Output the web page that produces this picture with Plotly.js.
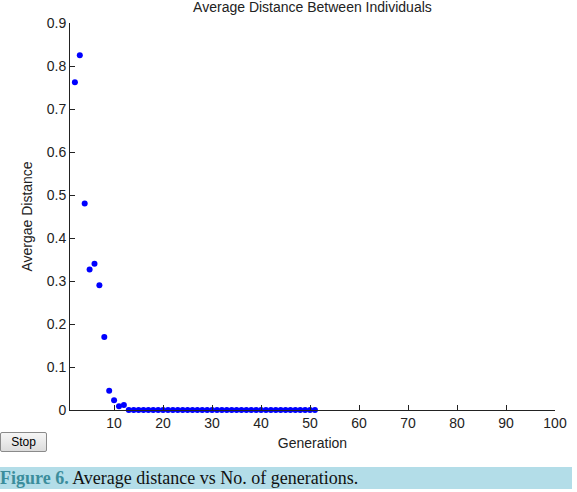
<!DOCTYPE html>
<html>
<head>
<meta charset="utf-8">
<script src="https://cdn.plot.ly/plotly-3.0.1.min.js"></script>
<style>
  html, body { margin: 0; padding: 0; background: #ffffff; }
  #wrap { position: relative; width: 577px; height: 492px; overflow: hidden; }
  #chart { position: absolute; left: 0; top: 0; width: 577px; height: 492px; }
  #stop {
    position: absolute; left: 0; top: 432px; width: 47px; height: 20px;
    box-sizing: border-box; border: 1px solid #8a8a8a; border-radius: 2px;
    background: linear-gradient(#f6f6f6, #dcdcdc);
    font: 12px "Liberation Sans", Arial, sans-serif; color: #000;
    padding: 0; margin: 0;
  }
  #caption {
    position: absolute; left: 0; top: 467px; width: 572px; height: 22px;
    background: #b3dde8; box-sizing: border-box; padding-left: 0;
    font: 18px "Liberation Serif", "Times New Roman", serif; color: #111;
    line-height: 22px; white-space: nowrap;
  }
  #caption b { color: #3b8d9c; }
</style>
</head>
<body>
<div id="wrap">
  <div id="chart"></div>
  <button id="stop">Stop</button>
  <div id="caption"><b>Figure 6.</b> Average distance vs No. of generations.</div>
</div>
<script>
// Average distance between individuals for each GA generation
const generations = [
  2, 3, 4, 5, 6, 7, 8, 9, 10, 11, 12,
  13, 14, 15, 16, 17, 18, 19, 20, 21, 22, 23, 24, 25, 26, 27, 28, 29, 30,
  31, 32, 33, 34, 35, 36, 37, 38, 39, 40, 41, 42, 43, 44, 45, 46, 47, 48,
  49, 50, 51
];
const avgDistance = [
  0.762, 0.825, 0.48, 0.327, 0.34, 0.29, 0.17, 0.045, 0.0225, 0.0086, 0.0116,
  0, 0, 0, 0, 0, 0, 0, 0, 0, 0, 0, 0, 0, 0, 0, 0, 0, 0,
  0, 0, 0, 0, 0, 0, 0, 0, 0, 0, 0, 0, 0, 0, 0, 0, 0, 0,
  0, 0, 0
];
const xTicks = [10, 20, 30, 40, 50, 60, 70, 80, 90, 100];
const yTicks = [0, 0.1, 0.2, 0.3, 0.4, 0.5, 0.6, 0.7, 0.8, 0.9];

const font = { family: '"Liberation Sans", Arial, sans-serif', size: 14, color: '#222' };

const trace = {
  x: generations,
  y: avgDistance,
  type: 'scatter',
  mode: 'markers',
  marker: { color: '#0000ff', size: 6 },
  cliponaxis: false,
  hoverinfo: 'skip'
};

const axisCommon = {
  showgrid: false,
  zeroline: false,
  showline: true,
  linecolor: '#222',
  linewidth: 1,
  ticks: 'inside',
  ticklen: 5,
  tickcolor: '#222',
  tickwidth: 1,
  tickfont: font,
  mirror: false
};

const layout = {
  width: 577,
  height: 492,
  margin: { l: 70, r: 22, t: 23, b: 82 },
  paper_bgcolor: '#ffffff',
  plot_bgcolor: '#ffffff',
  showlegend: false,
  font: font,
  title: {
    text: 'Average Distance Between Individuals',
    font: font,
    x: 0.5415, xanchor: 'center',
    yref: 'container', y: 1 - 7 / 492, yanchor: 'middle'
  },
  xaxis: Object.assign({}, axisCommon, {
    range: [1, 100],
    tickvals: xTicks,
    ticktext: xTicks.map(String),
    title: { text: 'Generation', font: font, standoff: 8 }
  }),
  yaxis: Object.assign({}, axisCommon, {
    range: [0, 0.9],
    tickvals: yTicks,
    ticktext: yTicks.map(v => v === 0 ? '0' : v.toFixed(1)),
    title: { text: 'Avergae Distance', font: font, standoff: 10 }
  })
};

Plotly.newPlot('chart', [trace], layout, { staticPlot: true, displayModeBar: false });
</script>
</body>
</html>
